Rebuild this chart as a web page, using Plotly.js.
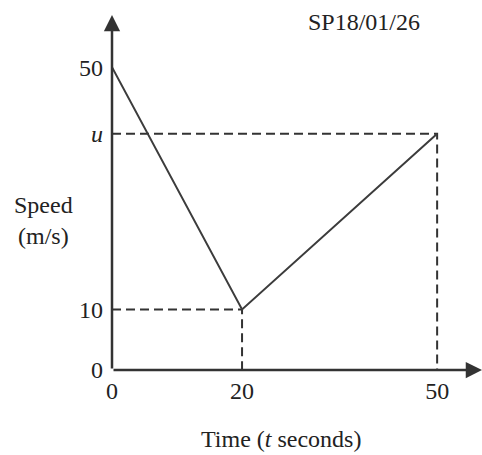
<!DOCTYPE html>
<html>
<head>
<meta charset="utf-8">
<script src="https://cdn.plot.ly/plotly-3.0.1.min.js"></script>
<style>html,body{margin:0;padding:0;background:#fff;}</style>
</head>
<body>
<div id="chart" style="width:482px;height:455px;"></div>
<script>
// Data (graph is a sketch; u is unknown, drawn at its sketched height)
const times = [0, 20, 50];
const speeds = [50, 10, 39];
const xTickVals = [0, 20, 50];
const xTickText = ['0', '20', '50'];
const yTickVals = [0, 10, 39, 50];
const yTickText = ['0', '10', '<i>u</i>', '50'];

const ink = '#333333';
const font = 'Liberation Serif, Times New Roman, serif';
const fs = 24;
const xMax = 56.9, yMax = 58.6;

const traces = [
  {x: [0, times[1], times[1]], y: [speeds[1], speeds[1], 0], mode: 'lines',
   line: {color: ink, width: 2, dash: '9px,5px'}, hoverinfo: 'skip'},
  {x: [0, times[2], times[2]], y: [speeds[2], speeds[2], 0], mode: 'lines',
   line: {color: ink, width: 2, dash: '9px,5px'}, hoverinfo: 'skip'},
  {x: times, y: speeds, mode: 'lines', line: {color: '#3c3c3c', width: 2}}
];

const layout = {
  width: 482, height: 455,
  margin: {l: 112, r: 0, t: 15, b: 85},
  paper_bgcolor: '#fff', plot_bgcolor: '#fff',
  showlegend: false,
  font: {family: font, size: fs, color: '#222'},
  xaxis: {range: [0, xMax], showgrid: false, zeroline: false, showline: false,
          tickvals: xTickVals, ticktext: xTickText, ticks: '', ticklabelstandoff: 4,
          tickfont: {family: font, size: fs, color: '#222'}, fixedrange: true},
  yaxis: {range: [0, yMax], showgrid: false, zeroline: false, showline: false,
          tickvals: yTickVals, ticktext: yTickText, ticks: '', ticklabelstandoff: 8,
          tickfont: {family: font, size: fs, color: '#222'}, fixedrange: true},
  annotations: [
    {x: xMax, y: 0, ax: 0, ay: 0, xref: 'x', yref: 'y', axref: 'x', ayref: 'y',
     showarrow: true, arrowhead: 2, arrowsize: 1.3, arrowwidth: 2.5, arrowcolor: ink, text: ''},
    {x: 0, y: yMax, ax: 0, ay: 0, xref: 'x', yref: 'y', axref: 'x', ayref: 'y',
     showarrow: true, arrowhead: 2, arrowsize: 1.3, arrowwidth: 2.5, arrowcolor: ink, text: ''}
  ]
};
// position paper-based annotations by pixel
const pw = 482 - 112, ph = 455 - 15 - 85;
function px(x){ return (x - 112) / pw; }
function py(y){ return (455 - 85 - y) / ph; }
function label(text, x, y){
  layout.annotations.push({text: text, showarrow: false, xref: 'paper', yref: 'paper',
    x: px(x), y: py(y), xanchor: 'center', yanchor: 'middle',
    font: {family: font, size: fs, color: '#222'}});
}
label('Speed<br>(m/s)', 43, 220);
label('SP18/01/26', 364, 22);
label('Time (<i>t</i> seconds)', 281, 439);

Plotly.newPlot('chart', traces, layout, {displayModeBar: false, staticPlot: true});
</script>
</body>
</html>
